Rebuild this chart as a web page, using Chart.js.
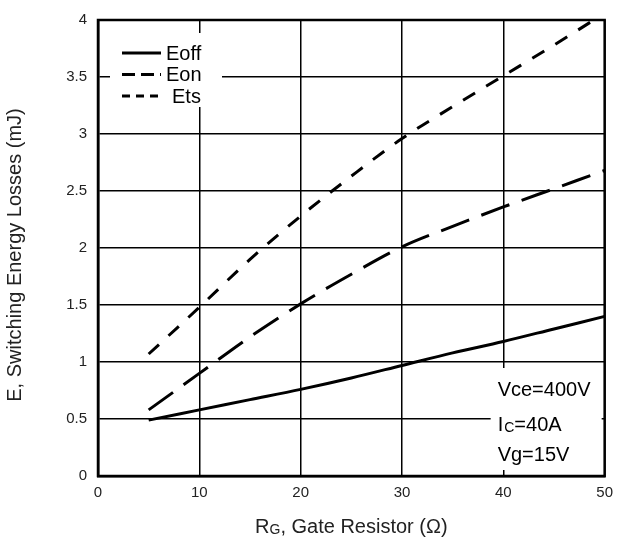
<!DOCTYPE html>
<html>
<head>
<meta charset="utf-8">
<script src="https://cdn.jsdelivr.net/npm/chart.js@4/dist/chart.umd.min.js"></script>
<style>
  html, body { margin: 0; padding: 0; background: #fff; }
  #wrap { width: 621px; height: 544px; }
</style>
</head>
<body>
<div id="wrap"><canvas id="chart" width="621" height="544"></canvas></div>
<script>
// Gate resistance (ohm) and switching energies (mJ)
const resistance = [5, 10, 15, 20, 25, 30, 35, 40, 45, 50];
const eoff = [0.49, 0.58, 0.67, 0.76, 0.86, 0.97, 1.08, 1.18, 1.29, 1.40];
const eon  = [0.58, 0.90, 1.22, 1.51, 1.77, 2.01, 2.19, 2.36, 2.52, 2.68];
const ets  = [1.07, 1.48, 1.90, 2.28, 2.63, 2.96, 3.24, 3.51, 3.78, 4.06];

const seriesNames = ['Eoff', 'Eon', 'Ets'];
const xTicks = [0, 10, 20, 30, 40, 50];
const yTicks = [0, 0.5, 1, 1.5, 2, 2.5, 3, 3.5, 4];
const conditions = ['Vce=400V', ['I', 'C', '=40A'], 'Vg=15V'];

const FONT = '"Liberation Sans", Arial, sans-serif';

function toPoints(ys) {
  return resistance.map((x, i) => ({ x: x, y: ys[i] }));
}

const legendDash = [[], [13, 6], [8, 6]];

// Legend, test-condition box, axis titles and frame
const overlay = {
  id: 'overlay',
  afterDatasetsDraw(chart) {
    const ctx = chart.ctx;
    const a = chart.chartArea;
    ctx.save();

    // legend box
    ctx.fillStyle = '#fff';
    ctx.fillRect(a.left + 12, a.top + 13, 112, 74);
    chart.data.datasets.forEach((ds, i) => {
      const y = a.top + 33 + i * 21.5;
      ctx.beginPath();
      ctx.setLineDash(legendDash[i]);
      ctx.lineWidth = 3;
      ctx.strokeStyle = '#000';
      ctx.moveTo(a.left + 24, y);
      ctx.lineTo(a.left + 63, y);
      ctx.stroke();
      ctx.setLineDash([]);
      ctx.fillStyle = '#000';
      ctx.font = '20px ' + FONT;
      ctx.textAlign = 'left';
      ctx.textBaseline = 'middle';
      ctx.fillText(ds.label, a.left + (i === 2 ? 74 : 68), y + 1);
    });

    // test-condition box
    ctx.fillStyle = '#fff';
    ctx.fillRect(a.right - 114, a.bottom - 108, 111, 102);
    ctx.fillStyle = '#000';
    ctx.textBaseline = 'middle';
    ctx.textAlign = 'left';
    const cx = a.right - 107;
    const rows = [a.bottom - 86, a.bottom - 51, a.bottom - 21];
    conditions.forEach((t, i) => {
      if (Array.isArray(t)) {
        ctx.font = '20px ' + FONT;
        let x = cx;
        ctx.fillText(t[0], x, rows[i]);
        x += ctx.measureText(t[0]).width + 1;
        ctx.font = '14px ' + FONT;
        ctx.fillText(t[1], x, rows[i] + 3);
        x += ctx.measureText(t[1]).width;
        ctx.font = '20px ' + FONT;
        ctx.fillText(t[2], x, rows[i]);
      } else {
        ctx.font = '20px ' + FONT;
        ctx.fillText(t, cx, rows[i]);
      }
    });

    // frame
    ctx.lineWidth = 2.5;
    ctx.strokeStyle = '#000';
    ctx.strokeRect(a.left, a.top, a.right - a.left, a.bottom - a.top);

    // y axis title
    ctx.save();
    ctx.translate(15, (a.top + a.bottom) / 2 + 7);
    ctx.rotate(-Math.PI / 2);
    ctx.font = '20px ' + FONT;
    ctx.fillStyle = '#222';
    ctx.textAlign = 'center';
    ctx.textBaseline = 'middle';
    ctx.fillText('E, Switching Energy Losses (mJ)', 0, 0);
    ctx.restore();

    // x axis title with subscript
    const parts = [['R', 20, 0], ['G', 14, 3], [', Gate Resistor (Ω)', 20, 0]];
    let total = 0;
    parts.forEach(p => { ctx.font = p[1] + 'px ' + FONT; total += ctx.measureText(p[0]).width; });
    let x = (a.left + a.right) / 2 - total / 2;
    ctx.fillStyle = '#222';
    ctx.textAlign = 'left';
    ctx.textBaseline = 'middle';
    parts.forEach(p => {
      ctx.font = p[1] + 'px ' + FONT;
      ctx.fillText(p[0], x, 527 + p[2]);
      x += ctx.measureText(p[0]).width;
    });

    ctx.restore();
  }
};

new Chart(document.getElementById('chart'), {
  type: 'line',
  data: {
    datasets: [
      { label: seriesNames[0], data: toPoints(eoff), borderColor: '#000', borderWidth: 3, borderDash: [], pointRadius: 0, cubicInterpolationMode: 'monotone', fill: false, clip: 0 },
      { label: seriesNames[1], data: toPoints(eon), borderColor: '#000', borderWidth: 3, borderDash: [30, 13], pointRadius: 0, cubicInterpolationMode: 'monotone', fill: false, clip: 0 },
      { label: seriesNames[2], data: toPoints(ets), borderColor: '#000', borderWidth: 3, borderDash: [14, 13], pointRadius: 0, cubicInterpolationMode: 'monotone', fill: false, clip: 0 }
    ]
  },
  options: {
    responsive: false,
    animation: false,
    devicePixelRatio: 1,
    layout: { padding: { top: 17, right: 13, left: 0, bottom: 0 } },
    plugins: { legend: { display: false }, tooltip: { enabled: false } },
    scales: {
      x: {
        type: 'linear', min: 0, max: 50,
        afterFit(scale) { scale.height = 68; },
        afterBuildTicks(scale) { scale.ticks = xTicks.map(v => ({ value: v })); },
        grid: { color: '#000', lineWidth: 1.5, drawTicks: false },
        border: { display: true, color: '#000', width: 2.5 },
        ticks: { color: '#222', padding: 8, font: { size: 15, family: FONT }, maxRotation: 0, callback: v => String(v) }
      },
      y: {
        type: 'linear', min: 0, max: 4,
        afterFit(scale) { scale.width = 98; },
        afterBuildTicks(scale) { scale.ticks = yTicks.map(v => ({ value: v })); },
        grid: { color: '#000', lineWidth: 1.5, drawTicks: false },
        border: { display: true, color: '#000', width: 2.5 },
        ticks: { color: '#222', padding: 11, font: { size: 15, family: FONT }, callback: v => String(v) }
      }
    }
  },
  plugins: [overlay]
});
</script>
</body>
</html>
